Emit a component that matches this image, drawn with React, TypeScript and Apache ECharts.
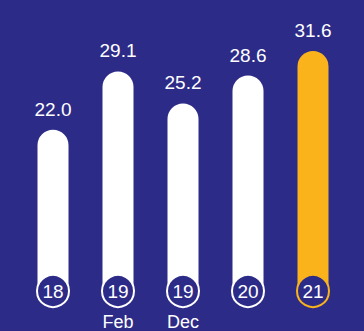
import React, { useEffect, useRef } from "react";
import * as echarts from "echarts";

const categories = ["2018", "Feb 2019", "Dec 2019", "2020", "2021"];
const monthLabels = ["", "Feb", "Dec", "", ""];
const yearLabels = ["18", "19", "19", "20", "21"];
const values = [22.0, 29.1, 25.2, 28.6, 31.6];
const highlightIndex = 4;

const BG = "#2d2b88";
const ORANGE = "#fab31a";
const FONT = "'Liberation Sans', Arial, sans-serif";

export default function App() {
  const ref = useRef<HTMLDivElement>(null);
  useEffect(() => {
    if (!ref.current) return;
    const chart = echarts.init(ref.current, undefined, { renderer: "svg" });
    const yMin = 2;
    chart.setOption({
      animation: false,
      backgroundColor: BG,
      textStyle: { fontFamily: FONT },
      grid: { left: 20.5, right: 18.5, top: 23, bottom: 36.5 },
      xAxis: {
        type: "category",
        data: categories,
        axisLine: { show: false },
        axisTick: { show: false },
        axisLabel: {
          interval: 0,
          color: "#ffffff",
          fontSize: 18,
          fontFamily: FONT,
          margin: 19,
          formatter: (_v: string, i: number) => monthLabels[i],
        },
      },
      yAxis: {
        type: "value",
        min: yMin,
        max: 35,
        show: false,
        splitLine: { show: false },
      },
      series: [
        {
          type: "bar",
          barWidth: 31,
          data: values.map((v, i) => ({
            value: v,
            itemStyle: {
              color: i === highlightIndex ? ORANGE : "#ffffff",
              borderRadius: [15.5, 15.5, 0, 0],
            },
          })),
          label: {
            show: true,
            position: "top",
            distance: 11,
            color: "#ffffff",
            fontSize: 19,
            fontFamily: FONT,
            formatter: (p: any) => Number(p.value).toFixed(1),
          },
          z: 2,
        },
        {
          type: "scatter",
          symbol: "circle",
          symbolSize: 32,
          symbolOffset: [0, -3],
          data: yearLabels.map((y, i) => ({
            value: yMin,
            name: y,
            itemStyle: {
              color: BG,
              opacity: 1,
              borderColor: i === highlightIndex ? ORANGE : "#ffffff",
              borderWidth: 2,
            },
          })),
          itemStyle: { opacity: 1 },
          label: {
            show: true,
            position: "inside",
            color: "#ffffff",
            fontSize: 19,
            fontFamily: FONT,
            formatter: (p: any) => yearLabels[p.dataIndex],
          },
          z: 5,
        },
      ],
    });
    return () => chart.dispose();
  }, []);
  return (
    <div
      ref={ref}
      style={{ position: "fixed", left: 0, top: 0, width: 364, height: 331 }}
    />
  );
}
